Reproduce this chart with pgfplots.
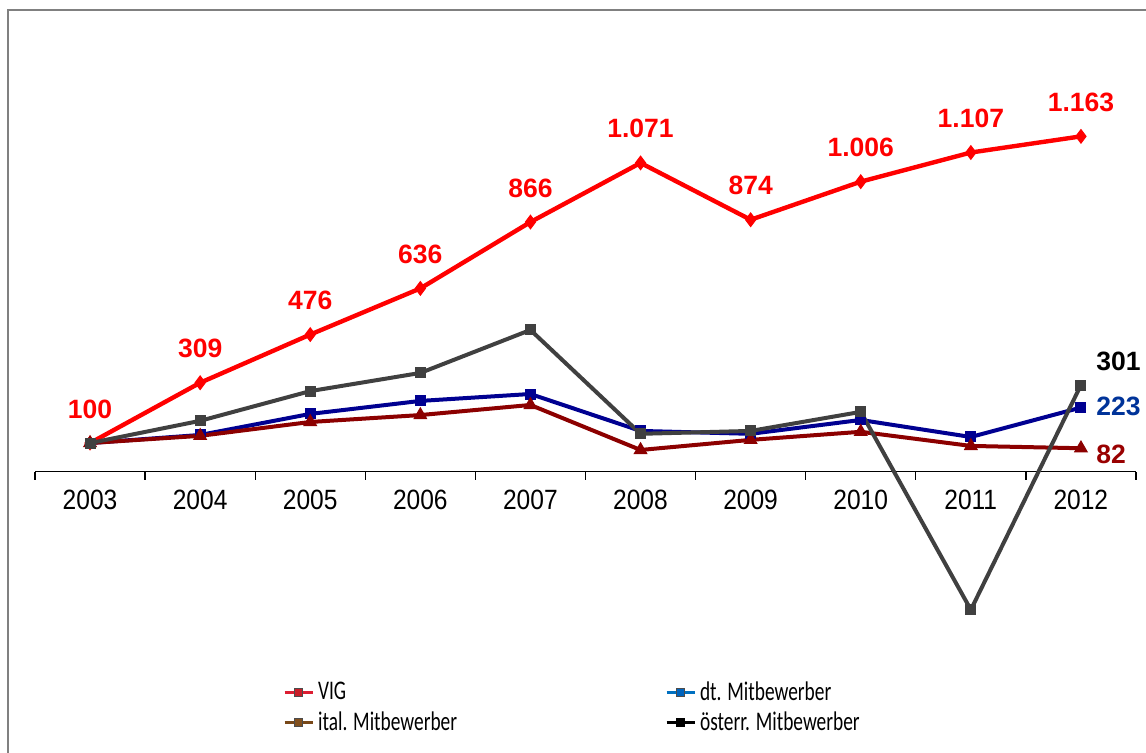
\documentclass[border=0pt]{standalone}
\usepackage{fontspec}
\setmainfont{Liberation Sans}
\newfontfamily\legfont[FakeStretch=0.72]{Carlito}
\newfontfamily\tickfont[FakeStretch=0.88]{Liberation Sans}
\usepackage{pgfplots}
\pgfplotsset{compat=1.18}

\definecolor{vigred}{RGB}{255,0,0}
\definecolor{dtblue}{RGB}{0,0,145}
\definecolor{italred}{RGB}{140,0,0}
\definecolor{oegray}{RGB}{64,64,64}
\definecolor{lblblue}{RGB}{0,51,153}
\definecolor{lblred}{RGB}{153,0,0}

\begin{document}
\begin{tikzpicture}
\useasboundingbox (0,0) rectangle (573bp,376.5bp);
\draw[gray, line width=1.2bp] (4bp,0) -- (4bp,371.5bp) -- (573bp,371.5bp);
\begin{axis}[
  at={(17.5bp,54bp)}, anchor=south west,
  scale only axis,
  width=550.5bp, height=288.5bp,
  xmin=2002.5, xmax=2012.5,
  ymin=-600, ymax=1400,
  axis x line*=middle,
  axis y line=none,
  axis line style={black, line width=0.6bp},
  xtick={2003,...,2012},
  xticklabels={2003,2004,2005,2006,2007,2008,2009,2010,2011,2012},
  major tick length=0pt,
  minor xtick={2002.5,2003.5,...,2012.5},
  minor tick length=4bp,
  tick align=outside,
  minor tick style={black, line width=0.6bp},
  xticklabel style={font=\tickfont\fontsize{14}{16}\selectfont, anchor=north, yshift=-5.5bp},
  clip=false,
  legend columns=2,
  legend cell align=left,
  legend style={at={(0.225,-0.056)}, anchor=north west, draw=none, fill=none,
    font=\legfont\fontsize{13.5}{15}\selectfont, inner sep=0pt,
    /tikz/every even column/.append style={column sep=102bp}},
  legend image code/.code={\draw[mark repeat=2,mark phase=2,#1]
    plot coordinates {(0bp,0bp) (7bp,0bp) (14bp,0bp)};},
]
\addlegendimage{line width=1.5bp, color={rgb,255:red,220;green,30;blue,50}, mark=square*, mark size=2bp, mark options={line width=0.5bp, fill={rgb,255:red,200;green,30;blue,40}, draw=black!70}}
\addlegendentry{VIG}
\addlegendimage{line width=1.5bp, color={rgb,255:red,0;green,112;blue,192}, mark=square*, mark size=2bp, mark options={line width=0.5bp, fill={rgb,255:red,0;green,100;blue,190}, draw=black!70}}
\addlegendentry{dt. Mitbewerber}
\addlegendimage{line width=1.5bp, color={rgb,255:red,120;green,72;blue,25}, mark=square*, mark size=2bp, mark options={line width=0.5bp, fill={rgb,255:red,130;green,80;blue,30}, draw=black!70}}
\addlegendentry{ital. Mitbewerber}
\addlegendimage{line width=1.5bp, color=black, mark=square*, mark size=2bp, mark options={line width=0.5bp, fill=black, draw=black}}
\addlegendentry{österr. Mitbewerber}

% VIG
\addplot[forget plot, vigred, line width=2.2bp, mark=diamond*, mark size=3.4bp,
  mark options={line width=0.5bp},
  point meta=explicit symbolic,
  nodes near coords,
  every node near coord/.append style={anchor=base, yshift=12.5bp, inner sep=0pt,
    font=\bfseries\fontsize{13.3}{15}\selectfont, text=vigred}]
table[meta=lab] {
x y lab
2003 100 100
2004 309 309
2005 476 476
2006 636 636
2007 866 866
2008 1071 1.071
2009 874 874
2010 1006 1.006
2011 1107 1.107
2012 1163 1.163
};

% dt. Mitbewerber
\addplot[forget plot, dtblue, line width=2bp, mark=square*, mark size=2.5bp,
  mark options={line width=0.5bp}] table {
x y
2003 100
2004 128
2005 201
2006 246
2007 270
2008 142
2009 132
2010 180
2011 121
2012 223
};

% ital. Mitbewerber
\addplot[forget plot, italred, line width=2bp, mark=triangle*, mark size=3.6bp,
  mark options={line width=0.5bp}] table {
x y
2003 100
2004 125
2005 173
2006 197
2007 232
2008 76
2009 111
2010 139
2011 90
2012 82
};

% oesterr. Mitbewerber
\addplot[forget plot, oegray, line width=2bp, mark=square*, mark size=2.5bp,
  mark options={line width=0.5bp}] table {
x y
2003 100
2004 177
2005 280
2006 343
2007 492
2008 132
2009 142
2010 208
2011 -478
2012 301
};

\node[anchor=base west, inner sep=0pt, xshift=7.5bp, yshift=7.5bp,
  font=\bfseries\fontsize{13.3}{15}\selectfont, text=black] at (axis cs:2012,301) {301};
\node[anchor=base west, inner sep=0pt, xshift=7.5bp, yshift=-4bp,
  font=\bfseries\fontsize{13.3}{15}\selectfont, text=lblblue] at (axis cs:2012,223) {223};
\node[anchor=base west, inner sep=0pt, xshift=7.5bp, yshift=-7.5bp,
  font=\bfseries\fontsize{13.3}{15}\selectfont, text=lblred] at (axis cs:2012,82) {82};
\end{axis}
\end{tikzpicture}
\end{document}
